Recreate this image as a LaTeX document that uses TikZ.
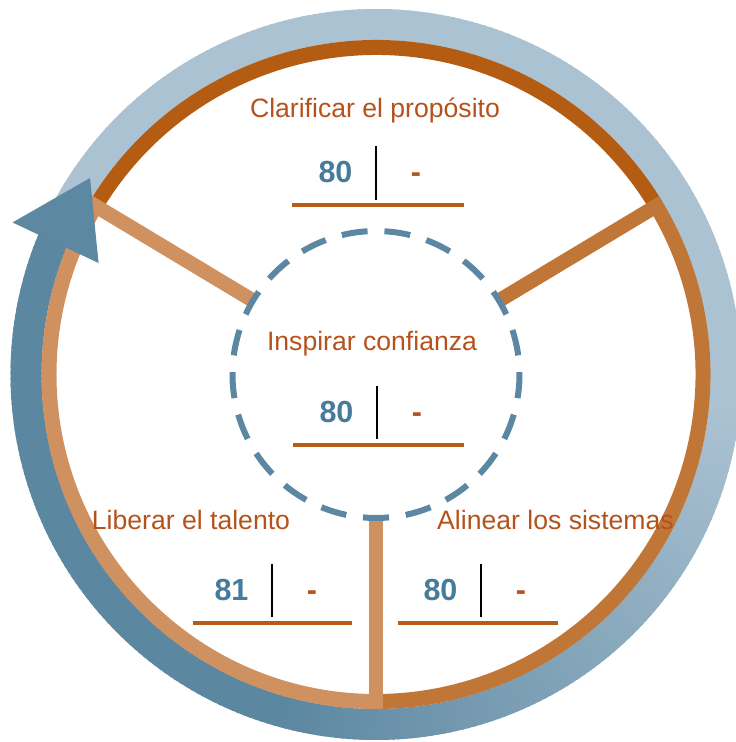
\documentclass[tikz,border=0pt]{standalone}
\usepackage{fontspec}
\setmainfont{Liberation Sans}

\definecolor{ringlight}{HTML}{ABC2D2}
\definecolor{ringdark}{HTML}{5C87A1}
\definecolor{arrowblue}{HTML}{5D88A2}
\definecolor{dashblue}{HTML}{5B87A2}
\definecolor{segdark}{HTML}{B35C12}
\definecolor{segmid}{HTML}{C07636}
\definecolor{seglight}{HTML}{CF915F}
\definecolor{txtorange}{HTML}{B5521B}
\definecolor{lineorange}{HTML}{B75C18}
\definecolor{numblue}{HTML}{477B9C}

% One score card: title, number, divider, empty mark and underline.
% #1 name, #2 title x, #3 title baseline, #4 title, #5 divider x,
% #6 number baseline, #7 number, #8/#9 underline ends
\newcommand\scorecard[9]{%
  \node[title] (#1-title) at (#2,#3) {#4};
  \node[score] (#1-num) at (#5-40.5,#6) {#7};
  \node[nomark] (#1-mark) at (#5+40,#6) {-};
  \coordinate (#1-bartop) at (#5,#6+36.5);
  \coordinate (#1-barbot) at (#5,#6-17);
  \coordinate (#1-ulL) at (#8,#6-22.5);
  \coordinate (#1-ulR) at (#9,#6-22.5);
  \draw[divider] (#1-bartop) -- (#1-barbot);
  \draw[scoreline] (#1-ulL) -- (#1-ulR);
}

\begin{document}
\begin{tikzpicture}[x=1pt,y=1pt,
  title/.style={font=\fontsize{26.6}{30}\selectfont, text=txtorange, anchor=base, inner sep=0pt},
  score/.style={font=\fontsize{30.5}{34}\selectfont\bfseries, text=numblue, anchor=base, inner sep=0pt},
  nomark/.style={font=\fontsize{30.5}{34}\selectfont\bfseries, text=txtorange, anchor=base, inner sep=0pt},
  divider/.style={black, line width=1.5pt},
  scoreline/.style={lineorange, line width=4pt},
  spokeline/.style={line width=14.5pt},
  ringseg/.style={line width=15pt},
]
\useasboundingbox (-376,-367.5) rectangle (360,374.5);
\clip (-376,-367.5) rectangle (360,374.5);

% outer cycle band, shading from light to dark along the way
\foreach \a in {153,152,...,-201}{
  \pgfmathtruncatemacro\p{max(0,min(100,-5-(\a)))}
  \pgfmathsetmacro\e{\a-1.6}
  \draw[line width=31pt, ringdark!\p!ringlight] (\a:350) arc[start angle=\a, end angle=\e, radius=350];
}

% inner ring in three sectors
\draw[ringseg, segdark] (149:327) arc[start angle=149, end angle=31, radius=327];
\draw[ringseg, segmid] (31:327) arc[start angle=31, end angle=-90, radius=327];
\draw[ringseg, seglight] (-90:327) arc[start angle=-90, end angle=-211, radius=327];

% spokes from the core circle to the ring
\coordinate (sA-in) at (149:143.5);
\coordinate (sA-out) at (149:334);
\coordinate (sB-in) at (31:143.5);
\coordinate (sB-out) at (31:334);
\coordinate (sC-in) at (270:143.5);
\coordinate (sC-out) at (270:334);
\draw[spokeline, segmid] (sB-in) -- (sB-out);
\draw[spokeline, seglight] (sA-in) -- (sA-out);
\draw[spokeline, seglight] (sC-in) -- (sC-out);

% dashed core circle
\foreach \k in {0,...,20}{
  \pgfmathsetmacro\s{270+\k*360/21-5.2}
  \pgfmathsetmacro\t{270+\k*360/21+5.2}
  \draw[dashblue, line width=6pt] (\s:143.5) arc[start angle=\s, end angle=\t, radius=143.5];
}

% arrowhead closing the cycle
\fill[arrowblue] (145.5:347) -- (157.3:394) -- (158.1:299) -- cycle;

% score cards
\scorecard{top}{-1}{256.5}{Clarificar el propósito}{0}{191.5}{80}{-84}{88}
\scorecard{core}{-4}{24.5}{Inspirar confianza}{1}{-47.5}{80}{-83}{88}
\scorecard{left}{-185}{-154.5}{Liberar el talento}{-104}{-225.5}{81}{-183}{-24}
\scorecard{right}{179.5}{-154.5}{Alinear los sistemas}{105}{-225.5}{80}{22}{182}
\end{tikzpicture}
\end{document}
